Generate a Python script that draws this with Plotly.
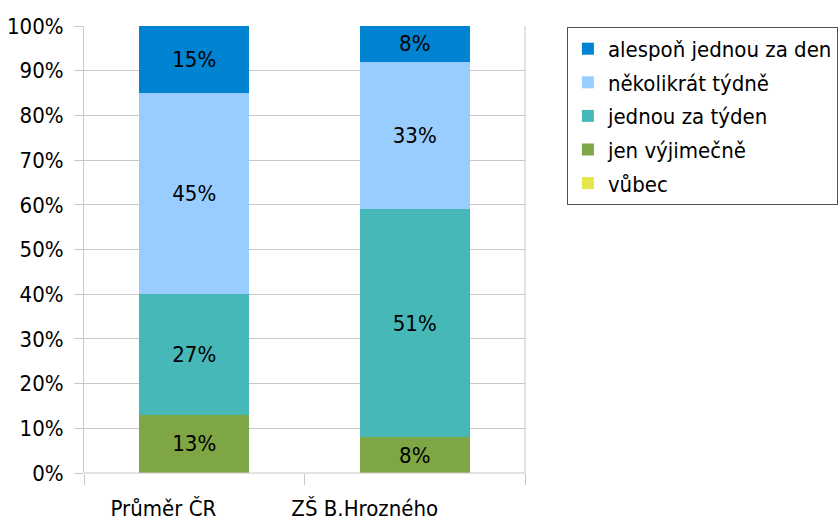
import plotly.graph_objects as go

categories = ["Průměr ČR", "ZŠ B.Hrozného"]
series_names = ["vůbec", "jen výjimečně", "jednou za týden", "několikrát týdně", "alespoň jednou za den"]
vubec = [0, 0]
jen_vyjimecne = [13, 8]
jednou_za_tyden = [27, 51]
nekolikrat_tydne = [45, 33]
alespon_jednou_za_den = [15, 8]
y_ticks = [0, 10, 20, 30, 40, 50, 60, 70, 80, 90, 100]
y_tick_labels = [f"{v}%" for v in y_ticks]

colors = ["#e6e64c", "#7ea644", "#47b8b8", "#99ccff", "#0084d1"]
values = [vubec, jen_vyjimecne, jednou_za_tyden, nekolikrat_tydne, alespon_jednou_za_den]

FONT = "DejaVu Sans Condensed, DejaVu Sans, sans-serif"
FS = 22

# bars sit at integer slots; category labels are set slightly left of each slot
slots = list(range(len(categories)))
label_offsets = [-0.14, -0.227]
label_pos = [s + o for s, o in zip(slots, label_offsets)]
boundaries = [s - 0.5 for s in slots] + [slots[-1] + 0.5]

fig = go.Figure()
n = len(series_names)
for i, (name, vals, col) in enumerate(zip(series_names, values, colors)):
    fig.add_trace(go.Bar(
        x=slots,
        y=vals,
        name=name,
        legendgroup=name,
        legendrank=n - i,  # top segment listed first
        marker=dict(color=col, line=dict(width=0)),
        text=[f"{v}%" if v > 0 else "" for v in vals],
        textposition="inside",
        insidetextanchor="middle",
        textangle=0,
        textfont=dict(color="black", size=FS, family=FONT),
        customdata=categories,
        hovertemplate="%{customdata}<br>" + name + ": %{y}%<extra></extra>",
    ))

grid = "#c8c8c8"
fig.update_layout(
    width=838, height=522,
    barmode="stack",
    bargap=0.5,
    plot_bgcolor="white",
    paper_bgcolor="white",
    margin=dict(l=84, r=313, t=26, b=49, autoexpand=False),
    font=dict(family=FONT, size=FS, color="black"),
    legend=dict(
        x=1.095, y=0.998, xanchor="left", yanchor="top",
        traceorder="grouped",
        tracegroupgap=2,
        bordercolor="#505050", borderwidth=1,
        font=dict(size=FS, family=FONT),
        itemwidth=30,
    ),
    xaxis=dict(
        type="linear",
        range=[boundaries[0], boundaries[-1]],
        showgrid=False,
        zeroline=False,
        showline=False,
        tickmode="array",
        tickvals=label_pos, ticktext=categories,
        ticks="",
        tickfont=dict(size=FS, family=FONT),
        ticklabelstandoff=20,
        minor=dict(
            tickmode="array", tickvals=boundaries,
            ticks="outside", ticklen=11, tickcolor=grid, showgrid=False,
        ),
    ),
    yaxis=dict(
        range=[0, 100],
        tickvals=y_ticks, ticktext=y_tick_labels,
        showgrid=True, gridcolor=grid, gridwidth=1,
        ticks="outside", ticklen=9, tickcolor=grid,
        showline=True, linecolor=grid, linewidth=1,
        zeroline=False,
        tickfont=dict(size=FS, family=FONT),
        ticklabelstandoff=6,
    ),
)
# right-hand border and baseline of the plot area
fig.add_shape(type="line", xref="paper", yref="paper", x0=1, x1=1, y0=0, y1=1,
              line=dict(color=grid, width=1))
fig.add_shape(type="line", xref="paper", yref="paper", x0=0, x1=1, y0=0, y1=0,
              line=dict(color=grid, width=1))

fig.write_html("out.html")
